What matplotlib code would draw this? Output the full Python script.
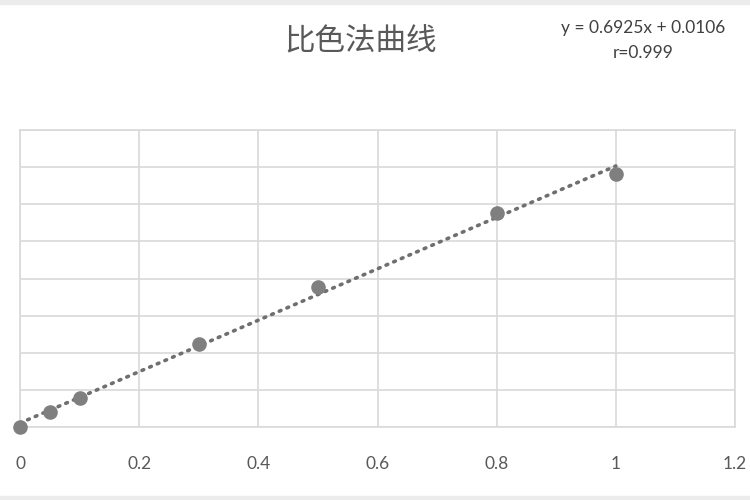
import numpy as np
import matplotlib
matplotlib.use("Agg")
import matplotlib.pyplot as plt
from matplotlib.patches import Rectangle

plt.rcParams['font.family'] = ['Noto Sans CJK SC', 'DejaVu Sans']

# 浓度 / 吸光度
conc = [0, 0.05, 0.1, 0.3, 0.5, 0.8, 1.0]
absorb = [0.0, 0.040, 0.079, 0.224, 0.378, 0.577, 0.681]
slope = 0.6925
intercept = 0.0106
x_ticks = [0, 0.2, 0.4, 0.6, 0.8, 1, 1.2]
x_labels = ['0', '0.2', '0.4', '0.6', '0.8', '1', '1.2']

fig = plt.figure(figsize=(7.5, 5), dpi=100)
ax = fig.add_axes([20 / 750, 1 - 427 / 500, 715 / 750, 297 / 500])

# trendline
xt = np.array([min(conc), max(conc)])
ax.plot(xt, slope * xt + intercept, color='#6f6f6f', lw=2.6,
        linestyle=(0, (0.5, 1.8)), dash_capstyle='round', zorder=3)
ax.scatter(conc, absorb, s=90, color='#7f7f7f', zorder=4, clip_on=False)

ax.set_xlim(0, 1.2)
ax.set_ylim(0, 0.8)
ax.set_xticks(x_ticks)
ax.set_xticklabels(x_labels, family='Lato', fontsize=12.5, color='#595959')
ax.set_yticks(np.arange(0, 0.81, 0.1))
ax.set_yticklabels([])
ax.tick_params(length=0, pad=21)
ax.grid(True, color='#d9d9d9', lw=1.2)
for s in ax.spines.values():
    s.set_color('#d9d9d9')
    s.set_linewidth(1.2)
ax.set_axisbelow(True)

fig.text(361 / 750, 1 - 41 / 500, '比色法曲线', ha='center', va='center',
         fontsize=22, fontweight='light', color='#595959')
fig.text(643 / 750, 1 - 28 / 500, 'y = 0.6925x + 0.0106', ha='center', va='center',
         family='Lato', fontsize=12.5, color='#404040')
fig.text(643 / 750, 1 - 53 / 500, 'r=0.999', ha='center', va='center',
         family='Lato', fontsize=12.5, color='#404040')

# screenshot edges
fig.patches.append(Rectangle((0, 1 - 4 / 500), 1, 4 / 500, transform=fig.transFigure,
                             color='#ececec', zorder=0))
fig.patches.append(Rectangle((0, 0), 1, 4 / 500, transform=fig.transFigure,
                             color='#ececec', zorder=0))

fig.savefig('out.png', dpi=100)
